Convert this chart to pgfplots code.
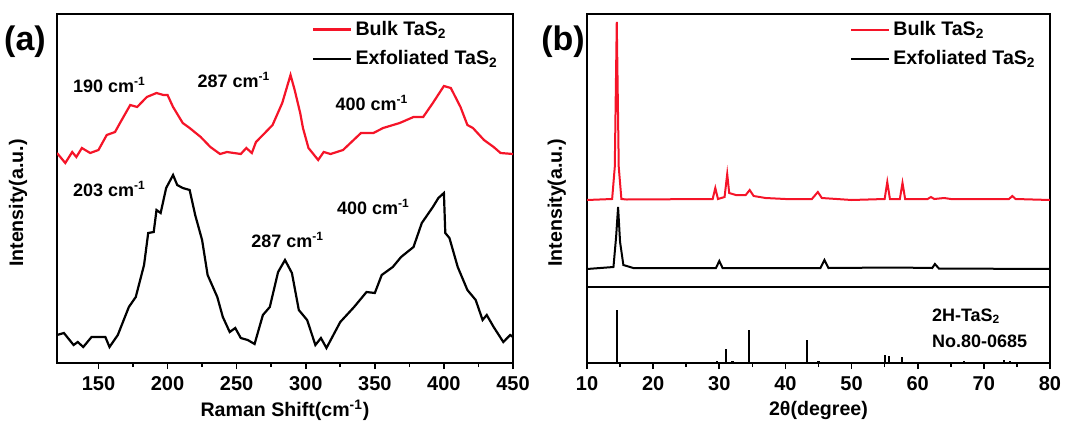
\documentclass[border=0pt]{standalone}
\usepackage{fontspec}
\setmainfont{Liberation Sans}
\usepackage{pgfplots}
\pgfplotsset{compat=1.18}
\definecolor{bulkred}{RGB}{245,20,40}

\pgfplotsset{
  panel/.style={
    scale only axis,
    axis line style={line width=1pt},
    tick style={line width=0.8pt, black},
    major tick length=3pt,
    minor tick length=2pt,
    tick align=outside,
    xtick pos=left,
    ytick=\empty,
    /pgf/number format/assume math mode=true,
    tick label style={font=\fontsize{10}{12}\selectfont\bfseries},
    label style={font=\fontsize{9.8}{12}\selectfont\bfseries},
  },
  leg/.style={
    legend cell align=left,
    legend image code/.code={\draw[##1] (0pt,0pt) -- (19pt,0pt);},
    legend style={draw=none, fill=none, font=\fontsize{9.8}{12}\selectfont\bfseries,
      row sep=3pt, inner sep=0pt, nodes={inner sep=1.5pt}},
  },
}

\begin{document}
\begin{tikzpicture}
\path[use as bounding box] (0,0) rectangle (536pt,212.5pt);

% ---------------- (a) Raman ----------------
\begin{axis}[panel, leg,
  at={(28.5pt,31pt)}, anchor=south west,
  width=228pt, height=174.5pt,
  xmin=120, xmax=450, ymin=0, ymax=349,
  xtick={150,200,...,450}, minor x tick num=1,
  xlabel={Raman Shift(cm\textsuperscript{-1})},
  ylabel={Intensity(a.u.)},
  xlabel style={at={(rel axis cs:0.5,-0.135)}, anchor=center},
  ylabel style={at={(rel axis cs:-0.0855,0.458)}, anchor=center},
  legend style={at={(rel axis cs:0.559,0.99)}, anchor=north west},
]
% Bulk
\addplot[bulkred, line width=1.1pt] coordinates {
  (120,210) (126,200) (131,211) (134,206) (138,215) (144,210) (150,213)
  (156,228) (162,231) (166,241) (173,258) (178,256) (185,266) (192,270)
  (197,268) (200,268) (204,256) (211,240) (216,235) (224,226) (231,216)
  (238,209) (243,211) (253,209) (257,215) (261,210) (264,221) (269,228)
  (276,238) (283,260) (289,288) (292,273) (296,250) (298,235) (302,215)
  (309,203) (313,211) (318,209) (327,213) (340,230) (349,230) (356,235)
  (368,240) (378,246) (385,246) (392,260) (400,277) (405,275) (412,256)
  (417,238) (421,235) (429,223) (436,216) (441,210) (450,209)
};
% Exfoliated
\addplot[black, line width=1.1pt] coordinates {
  (120,28) (125,30) (132,18) (135,21) (139,16) (145,26) (151,26) (155,26)
  (158,16) (164,28) (172,56) (177,66) (183,98) (186,130) (190,131)
  (192,153) (195,150) (199,175) (204,188) (207,178) (211,175) (216,173)
  (220,148) (225,123) (229,88) (236,66) (240,46) (245,31) (249,35)
  (253,25) (258,23) (263,19) (269,48) (274,56) (280,91) (285,103)
  (290,90) (295,53) (301,43) (307,18) (311,25) (315,15) (325,41)
  (335,56) (344,71) (350,70) (355,88) (363,96) (369,106) (378,116)
  (384,140) (392,156) (396,165) (400,170) (401,130) (404,125) (410,96)
  (417,73) (423,63) (428,43) (431,48) (436,36) (443,21) (448,28) (450,26)
};
\legend{Bulk TaS\textsubscript{2}, Exfoliated TaS\textsubscript{2}}
\begin{scope}[every node/.style={font=\small\bfseries}]
\node at (axis cs:158,278) {190 cm\textsuperscript{-1}};
\node at (axis cs:248,283) {287 cm\textsuperscript{-1}};
\node at (axis cs:348,260) {400 cm\textsuperscript{-1}};
\node at (axis cs:158,174) {203 cm\textsuperscript{-1}};
\node at (axis cs:287,123) {287 cm\textsuperscript{-1}};
\node at (axis cs:349,156) {400 cm\textsuperscript{-1}};
\end{scope}
\end{axis}

% ---------------- (b) XRD, upper part ----------------
\begin{axis}[panel, leg,
  at={(293.5pt,69pt)}, anchor=south west,
  width=231.5pt, height=136.5pt,
  xmin=10, xmax=80, ymin=0, ymax=273,
  xtick=\empty,
  ylabel={Intensity(a.u.)},
  ylabel style={at={(rel axis cs:-0.065,0.308)}, anchor=center},
  legend style={at={(rel axis cs:0.568,0.985)}, anchor=north west},
]
\addplot[bulkred, line width=1pt] coordinates {
  (10,87) (13.8,88) (14.2,120) (14.5,265) (14.8,120) (15.2,88) (16,87.5)
  (29,88) (29.4,99) (29.8,88) (30.8,90) (31.2,113) (31.5,94) (32.5,92)
  (34.0,92) (34.6,97) (35.2,91) (37,89) (40,88) (44,88) (44.9,95) (45.5,89)
  (50,87) (55,88) (55.4,105) (55.8,88) (57.3,88) (57.7,104) (58.1,88)
  (61.5,88) (62,90) (62.5,88) (64,89) (65,88) (73.8,88) (74.3,91) (74.8,88) (80,87)
};
\addplot[black, line width=1pt] coordinates {
  (10,18) (14,20) (14.4,50) (14.7,80) (15.0,45) (15.5,22) (17,19)
  (29.5,19) (30,26) (30.5,19) (45.3,19) (45.9,27) (46.5,19)
  (56.5,19.5) (62.2,19) (62.6,23) (63.2,18.5) (80,18)
};
\legend{Bulk TaS\textsubscript{2}, Exfoliated TaS\textsubscript{2}}
\end{axis}

% ---------------- (b) reference pattern ----------------
\begin{axis}[panel,
  at={(293.5pt,31pt)}, anchor=south west,
  width=231.5pt, height=38pt,
  xmin=10, xmax=80, ymin=0, ymax=76,
  xtick={10,20,...,80}, minor x tick num=1,
  xlabel={2θ(degree)},
  xlabel style={at={(rel axis cs:0.5,-0.618)}, anchor=center},
]
\addplot[black, ycomb, line width=1.1pt] coordinates {
  (14.49,53) (29.6,2) (30.97,14) (32.0,2) (34.55,33) (38.5,1) (43.3,23)
  (45.0,2) (55.1,8) (55.6,7) (57.6,6) (67,2) (70,1.5) (73,3) (74,2.5) (75,1)
};
\node[anchor=west, font=\small\bfseries] at (axis cs:61.1,47) {2H-TaS\textsubscript{2}};
\node[anchor=west, font=\small\bfseries] at (axis cs:61.1,22) {No.80-0685};
\end{axis}

\node[font=\fontsize{17}{20}\selectfont\bfseries] at (12.5pt,191.5pt) {(a)};
\node[font=\fontsize{17}{20}\selectfont\bfseries] at (281.5pt,191.5pt) {(b)};
\end{tikzpicture}
\end{document}
